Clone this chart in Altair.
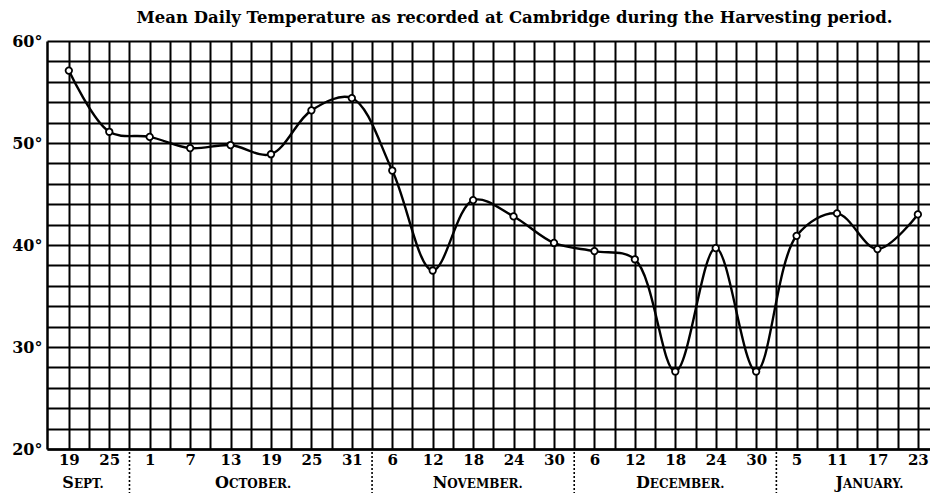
import json
import altair as alt
import pandas as pd

# ---- data ----
day_labels = ["19", "25", "1", "7", "13", "19", "25", "31", "6", "12", "18",
              "24", "30", "6", "12", "18", "24", "30", "5", "11", "17", "23"]
temps = [57.1, 51.1, 50.6, 49.5, 49.8, 48.9, 53.2, 54.4, 47.3, 37.5, 44.4,
         42.8, 40.2, 39.4, 38.6, 27.6, 39.7, 27.6, 40.9, 43.1, 39.6, 43.0]
months = ["Sept.", "October.", "November.", "December.", "January."]
month_counts = [2, 6, 5, 5, 4]
month_centers = [0.38, 4.57, 10.09, 15.1, 19.76]

FONT = "DejaVu Serif"
W, H = 883, 408
XMIN, XMAX = -0.54, 21.3
PX = W / (XMAX - XMIN)

df = pd.DataFrame({"i": list(range(len(temps))), "t": temps})

# month separators
bounds = []
c = 0
for n in month_counts[:-1]:
    c += n
    bounds.append(c - 0.5)
sep_df = pd.DataFrame({"b": bounds})

# small-caps month labels: first letter large, rest smaller
big, small = 16, 12
rows_first, rows_rest = [], []
for name, cen in zip(months, month_centers):
    up = name.upper()
    w1 = big * 0.78
    wr = sum((small * 0.36 if ch == "." else small * 0.80) for ch in up[1:])
    anchor = cen + ((w1 - wr) / 2) / PX
    rows_first.append({"x": anchor, "s": up[0]})
    rows_rest.append({"x": anchor, "s": up[1:]})
first_df = pd.DataFrame(rows_first)
rest_df = pd.DataFrame(rows_rest)

x_scale = alt.Scale(domain=[XMIN, XMAX], nice=False, zero=False)
y_scale = alt.Scale(domain=[20, 60], nice=False, zero=False)

label_expr = "datum.value % 1 == 0 ? " + json.dumps(day_labels) + "[round(datum.value)] : ''"

x_axis = alt.Axis(
    values=[k * 0.5 for k in range(0, 43)], tickCount=200,
    grid=True, gridColor="black", gridWidth=2, gridOpacity=1,
    ticks=False, domain=True, domainColor="black", domainWidth=2.5,
    labelExpr=label_expr, labelFont=FONT, labelFontSize=15, labelFontWeight="bold",
    labelColor="black", labelPadding=3, labelOverlap=False, labelFlush=False,
    labelBound=False, title=None,
)
y_axis = alt.Axis(
    values=list(range(20, 61, 2)), tickCount=200,
    grid=True, gridColor="black", gridWidth=2, gridOpacity=1,
    ticks=False, domain=True, domainColor="black", domainWidth=2.5,
    labelExpr="datum.value % 10 == 0 ? datum.value + '°' : ''",
    labelFont=FONT, labelFontSize=16, labelFontWeight="bold", labelColor="black",
    labelPadding=5, labelOverlap=False, labelFlush=False, labelBound=False, title=None,
)

base = alt.Chart(df)

line = base.mark_line(color="black", strokeWidth=2.4, interpolate="catmull-rom").encode(
    x=alt.X("i:Q", scale=x_scale, axis=x_axis),
    y=alt.Y("t:Q", scale=y_scale, axis=y_axis),
)
pts = base.mark_point(filled=True, fill="white", stroke="black", strokeWidth=1.8,
                      size=42, opacity=1).encode(
    x=alt.X("i:Q", scale=x_scale),
    y=alt.Y("t:Q", scale=y_scale),
)
seps = alt.Chart(sep_df).mark_rule(color="black", strokeWidth=1.6,
                                    strokeDash=[2, 2], clip=False).encode(
    x=alt.X("b:Q", scale=x_scale),
    y=alt.value(H + 3),
    y2=alt.value(H + 44),
)
first = alt.Chart(first_df).mark_text(font=FONT, fontSize=big, fontWeight="bold",
                                      align="right", baseline="alphabetic",
                                      color="black").encode(
    x=alt.X("x:Q", scale=x_scale), y=alt.value(H + 39), text="s:N")
rest = alt.Chart(rest_df).mark_text(font=FONT, fontSize=small, fontWeight="bold",
                                    align="left", baseline="alphabetic",
                                    color="black").encode(
    x=alt.X("x:Q", scale=x_scale), y=alt.value(H + 39), text="s:N")

chart = alt.layer(line, pts, seps, first, rest).properties(
    width=W, height=H,
    title=alt.TitleParams(
        "Mean Daily Temperature as recorded at Cambridge during the Harvesting period.",
        font=FONT, fontSize=16.5, fontWeight="bold", color="black",
        anchor="middle", frame="group", dx=26, offset=7,
    ),
    autosize=alt.AutoSizeParams(type="none"),
    padding={"left": 39, "top": 33, "right": 0, "bottom": 44},
    background="white",
).configure_view(stroke=None)

chart.save("out.html", embed_options={"renderer": "svg", "actions": False})
